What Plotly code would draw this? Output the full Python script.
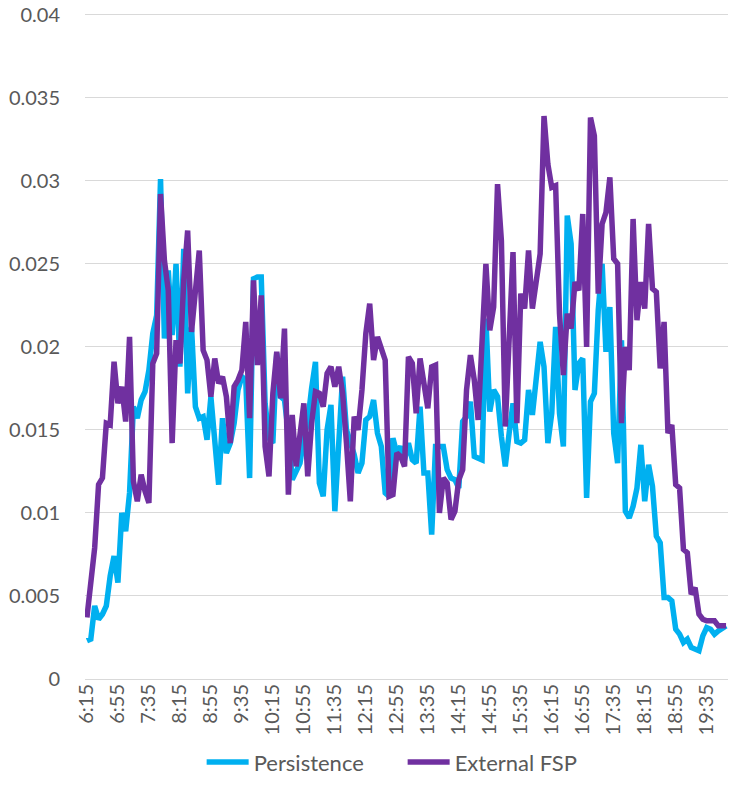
import plotly.graph_objects as go

START_HOUR, START_MIN, N_POINTS, STEP_MIN = 6, 15, 166, 5
times = []
for k in range(N_POINTS):
    m = START_HOUR * 60 + START_MIN + k * STEP_MIN
    times.append(f"{m // 60}:{m % 60:02d}")

tick_labels = ["6:15", "6:55", "7:35", "8:15", "8:55", "9:35", "10:15", "10:55",
               "11:35", "12:15", "12:55", "13:35", "14:15", "14:55", "15:35",
               "16:15", "16:55", "17:35", "18:15", "18:55", "19:35"]

y_ticks = [0, 0.005, 0.01, 0.015, 0.02, 0.025, 0.03, 0.035, 0.04]
y_tick_text = ["0", "0.005", "0.01", "0.015", "0.02", "0.025", "0.03", "0.035", "0.04"]

persistence = [
    0.0023, 0.0024, 0.0044, 0.0036, 0.0039, 0.0044, 0.0062, 0.0074, 0.0058, 0.0100,
    0.0089, 0.0112, 0.0164, 0.0157, 0.0168, 0.0173, 0.0186, 0.0208, 0.0219, 0.0301,
    0.0205, 0.0246, 0.0207, 0.0250, 0.0188, 0.0259, 0.0172, 0.0212, 0.0164, 0.0157,
    0.0158, 0.0144, 0.0170, 0.0138, 0.0117, 0.0157, 0.0136, 0.0142, 0.0154, 0.0174,
    0.0182, 0.0180, 0.0121, 0.0241, 0.0242, 0.0242, 0.0166, 0.0145, 0.0142, 0.0196,
    0.0170, 0.0168, 0.0148, 0.0120, 0.0126, 0.0130, 0.0145, 0.0155, 0.0175, 0.0191,
    0.0118, 0.0110, 0.0150, 0.0165, 0.0101, 0.0140, 0.0182, 0.0150, 0.0142, 0.0135,
    0.0124, 0.0130, 0.0156, 0.0158, 0.0168, 0.0148, 0.0140, 0.0112, 0.0110, 0.0145,
    0.0136, 0.0140, 0.0132, 0.0142, 0.0132, 0.0130, 0.0164, 0.0124, 0.0124, 0.0087,
    0.0140, 0.0140, 0.0140, 0.0126, 0.0121, 0.0120, 0.0115, 0.0155, 0.0158, 0.0167,
    0.0134, 0.0133, 0.0132, 0.0217, 0.0161, 0.0174, 0.0170, 0.0146, 0.0128, 0.0148,
    0.0166, 0.0143, 0.0142, 0.0144, 0.0174, 0.0159, 0.0182, 0.0203, 0.0188, 0.0142,
    0.0160, 0.0212, 0.0160, 0.0140, 0.0279, 0.0262, 0.0174, 0.0190, 0.0193, 0.0109,
    0.0167, 0.0172, 0.0222, 0.0250, 0.0197, 0.0224, 0.0148, 0.0130, 0.0204, 0.0101,
    0.0097, 0.0104, 0.0115, 0.0141, 0.0107, 0.0129, 0.0116, 0.0086, 0.0082, 0.0049,
    0.0049, 0.0047, 0.0030, 0.0027, 0.0022, 0.0024, 0.0019, 0.0018, 0.0017, 0.0026,
    0.0031, 0.0030, 0.0027, 0.0029, 0.0031, 0.0032,
]

external_fsp = [
    0.0037, 0.0059, 0.0079, 0.0117, 0.0121, 0.0154, 0.0153, 0.0191, 0.0166, 0.0176,
    0.0155, 0.0206, 0.0119, 0.0107, 0.0123, 0.0113, 0.0106, 0.0190, 0.0196, 0.0292,
    0.0252, 0.0234, 0.0142, 0.0204, 0.0190, 0.0240, 0.0270, 0.0209, 0.0235, 0.0258,
    0.0198, 0.0192, 0.0170, 0.0193, 0.0178, 0.0182, 0.0170, 0.0142, 0.0176, 0.0180,
    0.0186, 0.0215, 0.0157, 0.0240, 0.0189, 0.0231, 0.0140, 0.0122, 0.0172, 0.0197,
    0.0169, 0.0211, 0.0111, 0.0159, 0.0128, 0.0146, 0.0166, 0.0122, 0.0154, 0.0173,
    0.0172, 0.0164, 0.0184, 0.0188, 0.0176, 0.0188, 0.0172, 0.0142, 0.0107, 0.0158,
    0.0150, 0.0174, 0.0208, 0.0226, 0.0192, 0.0206, 0.0200, 0.0192, 0.0110, 0.0111,
    0.0136, 0.0134, 0.0128, 0.0194, 0.0190, 0.0160, 0.0193, 0.0176, 0.0163, 0.0188,
    0.0189, 0.0100, 0.0121, 0.0118, 0.0096, 0.0101, 0.0120, 0.0126, 0.0174, 0.0195,
    0.0180, 0.0156, 0.0204, 0.0250, 0.0210, 0.0224, 0.0298, 0.0264, 0.0152, 0.0205,
    0.0257, 0.0154, 0.0232, 0.0223, 0.0258, 0.0223, 0.0242, 0.0256, 0.0339, 0.0310,
    0.0296, 0.0297, 0.0220, 0.0183, 0.0220, 0.0211, 0.0239, 0.0234, 0.0280, 0.0200,
    0.0338, 0.0327, 0.0232, 0.0274, 0.0281, 0.0302, 0.0253, 0.0250, 0.0154, 0.0200,
    0.0186, 0.0277, 0.0216, 0.0239, 0.0223, 0.0274, 0.0235, 0.0233, 0.0187, 0.0215,
    0.0148, 0.0153, 0.0117, 0.0115, 0.0078, 0.0076, 0.0051, 0.0055, 0.0039, 0.0036,
    0.0035, 0.0035, 0.0035, 0.0032, 0.0032, 0.0032,
]

FONT = "Lato, 'Open Sans', sans-serif"
GREY = "#595959"

fig = go.Figure()
fig.add_trace(go.Scatter(x=times, y=persistence, name="Persistence", mode="lines",
                         line=dict(color="#00B0F0", width=5.5, shape="linear")))
fig.add_trace(go.Scatter(x=times, y=external_fsp, name="External FSP", mode="lines",
                         line=dict(color="#7030A0", width=5.5, shape="linear")))

fig.update_layout(
    width=730, height=803,
    margin=dict(l=85, r=2, t=13, b=124),
    paper_bgcolor="white", plot_bgcolor="white",
    font=dict(family=FONT, size=20, color=GREY),
    showlegend=True,
    legend=dict(orientation="h", x=0.494, xanchor="center", y=-0.125, yanchor="middle",
                font=dict(family=FONT, size=22, color=GREY), itemwidth=42,
                entrywidth=144, bgcolor="rgba(0,0,0,0)"),
)
fig.update_xaxes(type="category", tickmode="array", tickvals=tick_labels, ticktext=tick_labels,
                 tickangle=-90, range=[-0.5, N_POINTS - 0.5], showgrid=False,
                 showline=False, zeroline=False, ticks="", ticklen=0, automargin=False,
                 tickfont=dict(family=FONT, size=20, color=GREY))
fig.update_yaxes(range=[0, 0.0401], tickmode="array", tickvals=y_ticks, ticktext=y_tick_text,
                 showgrid=True, gridcolor="#D9D9D9", automargin=False,
                 gridwidth=1.3, zeroline=True, zerolinecolor="#D9D9D9", zerolinewidth=1.3,
                 showline=False, ticks="", tickfont=dict(family=FONT, size=20, color=GREY),
                 ticklabelstandoff=24, ticklabeloverflow="allow")

fig.write_html("out.html", config={"displayModeBar": False},
               post_script="document.body.style.margin='0';")
